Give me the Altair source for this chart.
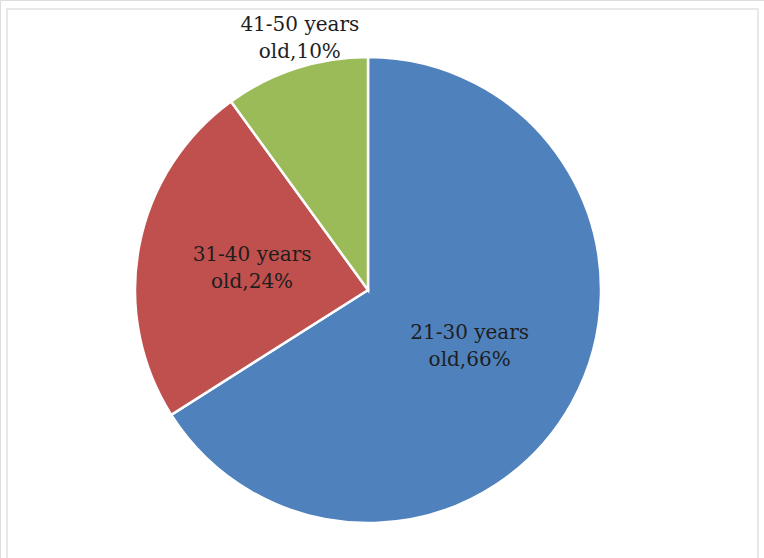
import altair as alt
import pandas as pd

categories = ["21-30 years old", "31-40 years old", "41-50 years old"]
values = [66, 24, 10]
labels = ["21-30 years\nold,66%", "31-40 years\nold,24%", "41-50 years\nold,10%"]
colors = ["#4F81BD", "#C0504D", "#9BBB59"]

df = pd.DataFrame({"age": categories, "pct": values, "label": labels, "idx": [0, 1, 2]})

pie = alt.Chart(df).mark_arc(outerRadius=233, stroke="white", strokeWidth=2.5).encode(
    theta=alt.Theta("pct:Q", stack=True),
    order=alt.Order("idx:O"),
    color=alt.Color("age:N", scale=alt.Scale(domain=categories, range=colors), legend=None),
    x=alt.value(368),
    y=alt.value(290),
)

text = alt.Chart(df).transform_joinaggregate(
    total="sum(pct)"
).transform_window(
    cum="sum(pct)", sort=[alt.SortField("idx")], frame=[None, 0]
).transform_calculate(
    mid="(datum.cum - datum.pct / 2) / datum.total * 2 * PI + (datum.idx == 2 ? 0.05 : 0)",
    r="datum.idx == 2 ? 261 : (datum.idx == 1 ? 118 : 116)",
).mark_text(
    font="DejaVu Serif", fontSize=20, lineBreak="\n", lineHeight=27,
    color="#1e1e1e", align="center", baseline="middle", dy=-13
).encode(
    theta=alt.Theta("mid:Q", scale=None, stack=None),
    radius=alt.Radius("r:Q", scale=None, stack=None),
    text="label:N",
    x=alt.value(368),
    y=alt.value(290),
)

frame = alt.Chart(df).mark_rect(fill=None, stroke="#e8e8e8", strokeWidth=1.5).encode(
    x=alt.value(7), x2=alt.value(758), y=alt.value(9), y2=alt.value(575)
)

chart = alt.layer(frame, pie, text).properties(
    width=764, height=558, padding=0,
    autosize=alt.AutoSizeParams(type="none"),
).configure_view(stroke=None).configure(background="white")

chart.save("out.html", embed_options={"renderer": "svg", "actions": False})
